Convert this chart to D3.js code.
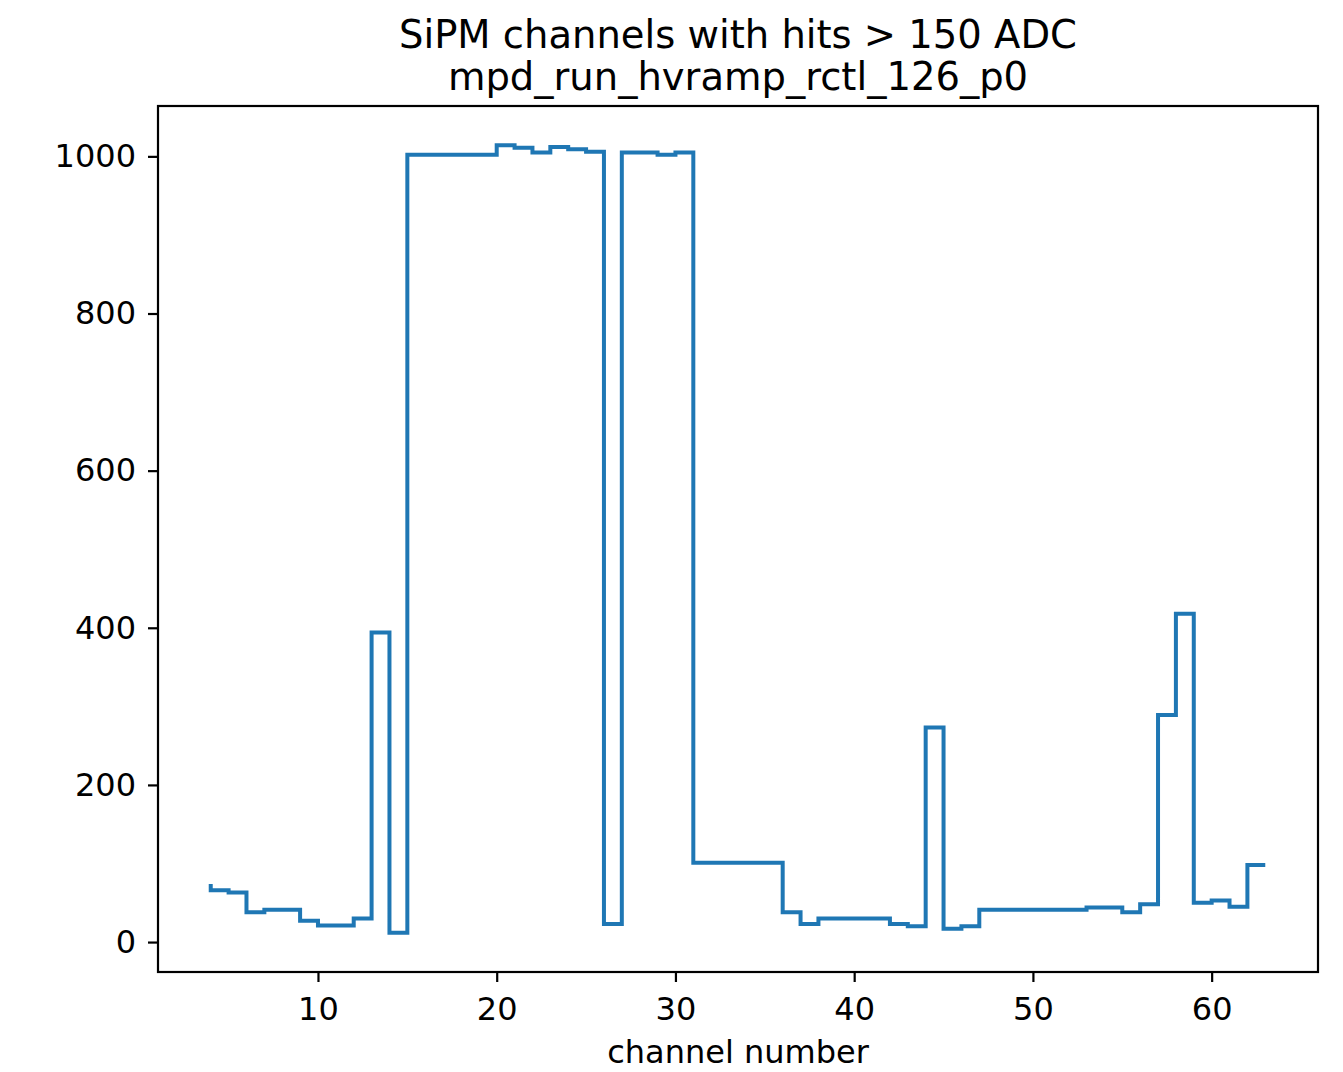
<!DOCTYPE html>
<html lang="en">
<head>
    <meta charset="UTF-8">
    <title>SiPM channels with hits</title>
    <script src="https://d3js.org/d3.v7.min.js"></script>
    <style>
        body { margin: 0; padding: 0; background: #fff; }
        svg text { font-family: "DejaVu Sans", sans-serif; fill: #000; }
    </style>
</head>
<body>
    <svg id="chart" width="1343" height="1072"></svg>
    <script>
        // Channel numbers and hit counts (step plot, where='pre')
        const channels = d3.range(4, 64);
        const hits = [
            74, 66, 63, 38, 41, 41, 27, 21, 21, 30,
            394, 12, 1002, 1002, 1002, 1002, 1002, 1014, 1011, 1005,
            1012, 1009, 1006, 23, 1005, 1005, 1002, 1005, 101, 101,
            101, 101, 101, 38, 23, 30, 30, 30, 30, 23,
            20, 273, 17, 20, 41, 41, 41, 41, 41, 41,
            44, 44, 38, 48, 289, 418, 50, 53, 45, 98
        ];
        const xTicks = [10, 20, 30, 40, 50, 60];
        const yTicks = [0, 200, 400, 600, 800, 1000];
        const titleLines = ["SiPM channels with hits > 150 ADC", "mpd_run_hvramp_rctl_126_p0"];

        const data = channels.map((c, i) => ({ x: c, y: hits[i] }));

        const plotLeft = 158, plotRight = 1318, plotTop = 106, plotBottom = 972;
        const svg = d3.select("#chart");

        // matplotlib style 5% margins
        const xExt = d3.extent(channels), yExt = d3.extent(hits);
        const xPad = (xExt[1] - xExt[0]) * 0.05, yPad = (yExt[1] - yExt[0]) * 0.05;

        const xScale = d3.scaleLinear()
            .domain([xExt[0] - xPad, xExt[1] + xPad])
            .range([plotLeft, plotRight]);
        const yScale = d3.scaleLinear()
            .domain([yExt[0] - yPad, yExt[1] + yPad])
            .range([plotBottom, plotTop]);

        // Step line
        const line = d3.line()
            .x(d => xScale(d.x))
            .y(d => yScale(d.y))
            .curve(d3.curveStepBefore);

        svg.append("path")
            .datum(data)
            .attr("fill", "none")
            .attr("stroke", "#1f77b4")
            .attr("stroke-width", 4)
            .attr("stroke-linejoin", "miter")
            .attr("d", line);

        // X axis
        const xAxis = svg.append("g")
            .attr("transform", `translate(0, ${plotBottom})`)
            .call(d3.axisBottom(xScale).tickValues(xTicks).tickSize(10).tickPadding(15).tickFormat(d3.format("d")));
        xAxis.select(".domain").remove();
        xAxis.selectAll("line").attr("stroke", "#000").attr("stroke-width", 2.2);
        xAxis.selectAll("text").attr("font-size", 32).attr("fill", "#000");

        // Y axis
        const yAxis = svg.append("g")
            .attr("transform", `translate(${plotLeft}, 0)`)
            .call(d3.axisLeft(yScale).tickValues(yTicks).tickSize(10).tickPadding(12).tickFormat(d3.format("d")));
        yAxis.select(".domain").remove();
        yAxis.selectAll("line").attr("stroke", "#000").attr("stroke-width", 2.2);
        yAxis.selectAll("text").attr("font-size", 32).attr("fill", "#000");

        // Axes frame
        svg.append("rect")
            .attr("x", plotLeft)
            .attr("y", plotTop)
            .attr("width", plotRight - plotLeft)
            .attr("height", plotBottom - plotTop)
            .attr("fill", "none")
            .attr("stroke", "#000")
            .attr("stroke-width", 2.2);

        // Title
        svg.append("g").selectAll("text")
            .data(titleLines)
            .join("text")
            .attr("x", (plotLeft + plotRight) / 2)
            .attr("y", (d, i) => 48 + i * 42)
            .attr("text-anchor", "middle")
            .attr("font-size", 38.5)
            .text(d => d);

        // X axis label
        svg.append("text")
            .attr("x", (plotLeft + plotRight) / 2)
            .attr("y", 1063)
            .attr("text-anchor", "middle")
            .attr("font-size", 32)
            .text("channel number");
    </script>
</body>
</html>
